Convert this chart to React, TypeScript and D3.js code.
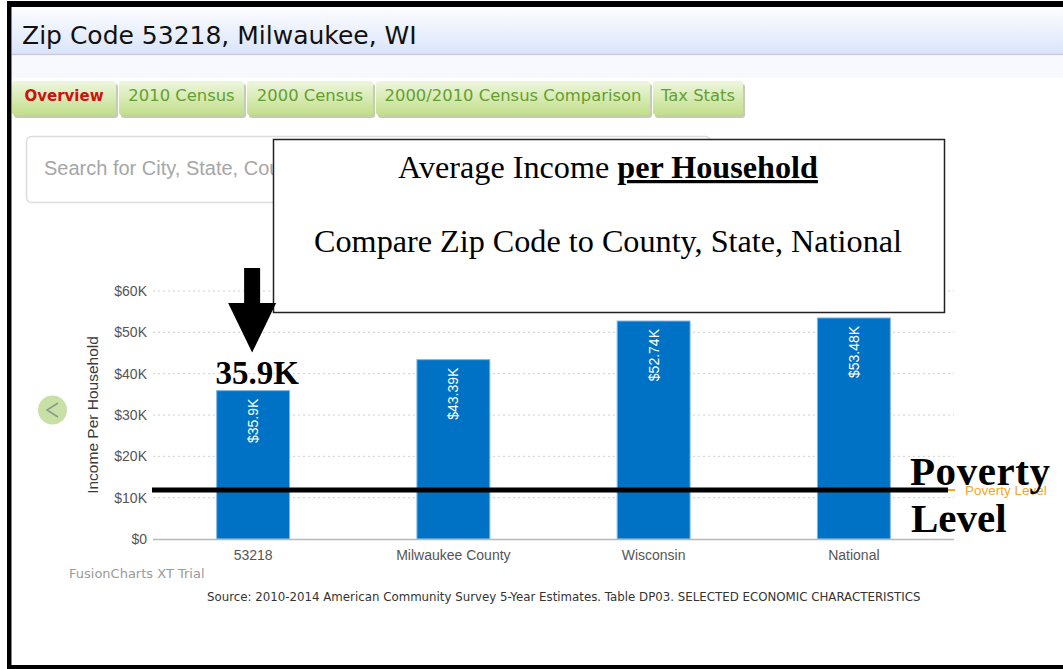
import React from 'react';
import * as d3 from 'd3';

// chart data
const categories = ['53218', 'Milwaukee County', 'Wisconsin', 'National'];
const incomeK = [35.9, 43.39, 52.74, 53.48];
const yTicks = [0, 10, 20, 30, 40, 50, 60];
const povertyLevelK = 11.86;
const tabLabels = ['Overview', '2010 Census', '2000 Census', '2000/2010 Census Comparison', 'Tax Stats'];
const tabEdges = [12, 119, 247, 376, 653, 746];

const W = 1063;
const H = 669;
const plot = { left: 153, right: 954, top: 291, bottom: 539 };

const VERDANA = '"DejaVu Sans", Verdana, sans-serif';
const ARIAL = '"Liberation Sans", Arial, sans-serif';
const TIMES = '"Liberation Serif", "Times New Roman", serif';

const App = () => {
  const x = d3.scaleBand<string>()
    .domain(categories)
    .range([plot.left, plot.right])
    .paddingInner(0.636)
    .paddingOuter(0.318);

  const y = d3.scaleLinear().domain([0, 60]).range([plot.bottom, plot.top]);

  const fmtTick = (v: number) => (v === 0 ? '$0' : `$${v}K`);
  const povY = y(povertyLevelK);
  const firstX = (x(categories[0]) as number) + x.bandwidth() / 2;
  const firstTop = y(incomeK[0]);

  return (
    <svg width={W} height={H} style={{ position: 'absolute', left: 0, top: 0, background: '#fff' }}>
      <defs>
        <linearGradient id="hdr" x1="0" y1="0" x2="0" y2="1">
          <stop offset="0" stopColor="#fdfdff" />
          <stop offset="1" stopColor="#d9e4fb" />
        </linearGradient>
        <linearGradient id="tab" x1="0" y1="0" x2="0" y2="1">
          <stop offset="0" stopColor="#eef6de" />
          <stop offset="1" stopColor="#c2de8a" />
        </linearGradient>
        <clipPath id="searchClip">
          <rect x={27} y={137} width={246} height={65} />
        </clipPath>
      </defs>

      {/* page frame */}
      <rect x={0} y={0} width={W} height={H} fill="#fff" />
      <rect x={11} y={7} width={W - 11} height={48} fill="url(#hdr)" />
      <line x1={11} x2={W} y1={54.5} y2={54.5} stroke="#c9ccd6" strokeWidth={1.5} />
      <rect x={11} y={56} width={W - 11} height={22} fill="#f8f9fe" />
      <text x={22} y={44} fontFamily={VERDANA} fontSize={25} fill="#111">Zip Code 53218, Milwaukee, WI</text>

      {/* tabs */}
      {tabLabels.map((t, i) => {
        const x0 = tabEdges[i];
        const x1 = tabEdges[i + 1] - 3;
        const bold = i === 0;
        return (
          <g key={t}>
            <rect x={x0 + 2} y={84} width={x1 - x0} height={34} rx={3} fill="#a8b890" opacity={0.7} />
            <rect x={x0} y={81} width={x1 - x0} height={34} rx={3} fill="url(#tab)" />
            <text x={(x0 + x1) / 2} y={101} textAnchor="middle" fontFamily={VERDANA}
              fontSize={bold ? 15 : 16.4} fontWeight={bold ? 'bold' : 'normal'}
              fill={bold ? '#cc1111' : '#64a030'}>{t}</text>
          </g>
        );
      })}

      {/* search box */}
      <rect x={26.5} y={136.5} width={684} height={66} rx={5} fill="#fff" stroke="#dcdcdc" strokeWidth={1.5} />
      <text x={44} y={175} fontFamily={ARIAL} fontSize={20} fill="#a6a6a6" clipPath="url(#searchClip)">Search for City, State, County</text>

      {/* gridlines */}
      {yTicks.filter(t => t > 0).map(t => (
        <line key={t} x1={plot.left} x2={plot.right} y1={y(t)} y2={y(t)}
          stroke="#cfcfcf" strokeWidth={1} strokeDasharray="2,3" />
      ))}

      {/* y tick labels */}
      {yTicks.map(t => (
        <text key={t} x={147} y={y(t)} dy="0.35em" textAnchor="end" fontFamily={ARIAL} fontSize={14} fill="#555">
          {fmtTick(t)}
        </text>
      ))}

      <text transform={`translate(98,415) rotate(-90)`} textAnchor="middle"
        fontFamily={ARIAL} fontSize={15.5} fill="#3a3a3a">Income Per Household</text>

      {/* bars */}
      {categories.map((c, i) => {
        const bx = x(c) as number;
        const top = y(incomeK[i]);
        const cx = bx + x.bandwidth() / 2;
        return (
          <g key={c}>
            <rect x={bx} y={top} width={x.bandwidth()} height={plot.bottom - top}
              fill="#0072c5" stroke="#7fb4e4" strokeWidth={1} />
            <text transform={`translate(${cx},${top + 8}) rotate(-90)`} textAnchor="end" dy="0.35em"
              fontFamily={ARIAL} fontSize={14} fill="#fff">{`$${incomeK[i]}K`}</text>
            <text x={cx} y={560} textAnchor="middle" fontFamily={ARIAL} fontSize={14} fill="#555">{c}</text>
          </g>
        );
      })}

      {/* x axis line */}
      <line x1={plot.left} x2={plot.right} y1={plot.bottom + 0.5} y2={plot.bottom + 0.5} stroke="#b8b8b8" strokeWidth={1.5} />

      {/* poverty trend line */}
      <line x1={plot.left} x2={955} y1={povY} y2={povY} stroke="#f5a623" strokeWidth={2} />
      <text x={965} y={povY} dy="0.35em" fontFamily={ARIAL} fontSize={13.5} fill="#f5a623">Poverty Level</text>
      <line x1={plot.left - 1} x2={948} y1={povY} y2={povY} stroke="#000" strokeWidth={5} />

      <text x={69} y={578} fontFamily={VERDANA} fontSize={13} fill="#9a9a9a">FusionCharts XT Trial</text>
      <text x={207} y={601} fontFamily={VERDANA} fontSize={11.8} fill="#333">
        Source: 2010-2014 American Community Survey 5-Year Estimates. Table DP03. SELECTED ECONOMIC CHARACTERISTICS
      </text>

      {/* left nav circle */}
      <circle cx={52.5} cy={410} r={14.5} fill="#c8e0a6" />
      <polyline points="58,403 47,410 58,417" fill="none" stroke="#8a9a88" strokeWidth={1.5} />

      {/* annotations */}
      <rect x={273.5} y={139.5} width={671} height={173} fill="#fff" stroke="#222" strokeWidth={1.5} />
      <text x={608} y={178} textAnchor="middle" fontFamily={TIMES} fontSize={32.2} fill="#000">
        Average Income <tspan fontWeight="bold" textDecoration="underline">per Household</tspan>
      </text>
      <text x={608} y={252} textAnchor="middle" fontFamily={TIMES} fontSize={32.2} fill="#000">
        Compare Zip Code to County, State, National
      </text>

      <rect x={firstX - 9} y={268} width={16} height={36} fill="#000" />
      <path d={`M${firstX - 25},303 L${firstX + 23},303 L${firstX - 1},${firstTop - 38} Z`} fill="#000" />
      <text x={firstX + 4} y={firstTop - 7} textAnchor="middle" fontFamily={TIMES} fontSize={33} fontWeight="bold" fill="#000">35.9K</text>

      <text x={910} y={485} fontFamily={TIMES} fontSize={41} fontWeight="bold" fill="#000"
        textLength={140} lengthAdjust="spacing">Poverty</text>
      <text x={911} y={532} fontFamily={TIMES} fontSize={41} fontWeight="bold" fill="#000">Level</text>

      {/* screenshot border */}
      <rect x={7} y={1} width={W - 7} height={6} fill="#000" />
      <rect x={7} y={1} width={4} height={H - 1} fill="#000" />
      <line x1={11.5} x2={11.5} y1={7} y2={665} stroke="#888" strokeWidth={1} />
      <rect x={7} y={665} width={W - 7} height={4} fill="#000" />
    </svg>
  );
};

export default App;
